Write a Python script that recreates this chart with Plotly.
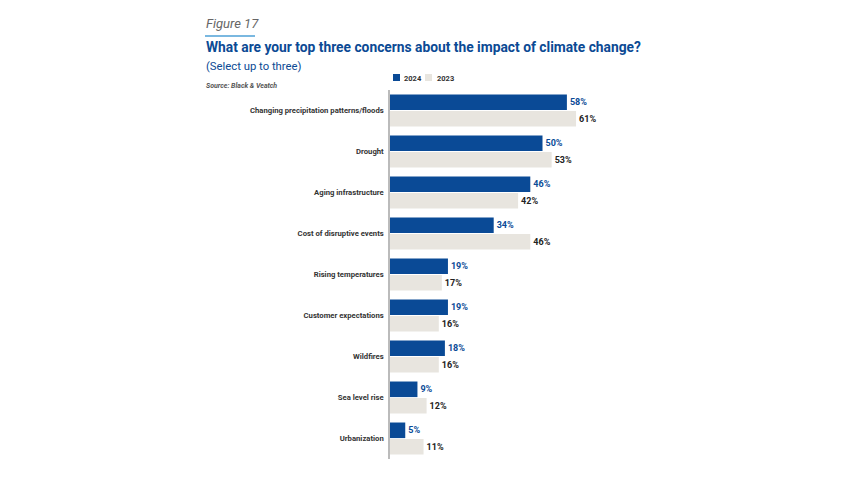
import plotly.graph_objects as go

categories = ["Changing precipitation patterns/floods", "Drought", "Aging infrastructure",
              "Cost of disruptive events", "Rising temperatures", "Customer expectations",
              "Wildfires", "Sea level rise", "Urbanization"]
values_2024 = [58, 50, 46, 34, 19, 19, 18, 9, 5]
values_2023 = [61, 53, 42, 46, 17, 16, 16, 12, 11]
series_names = ["2024", "2023"]

OFF = 8  # body margin of the html page
W, H = 853, 480
# page coordinates of the plot area
PL, PT, PB = 390, 90, 459
PW = 305
L, T = PL - OFF, PT - OFF
B = PB - OFF
R = W - L - PW
BM = H - B

def px(x):
    return (x - PL) / PW

def py(y):
    return (PB - y) / (PB - PT)

FONT = "Roboto, Arial"
BLUE = "#0a4a96"
BEIGE = "#e8e5df"

fig = go.Figure()
fig.add_trace(go.Bar(
    y=categories, x=values_2024, name=series_names[0], orientation="h",
    marker=dict(color=BLUE, line=dict(width=0)),
    text=[f"{v}%" for v in values_2024], textposition="outside", cliponaxis=False,
    textfont=dict(color=BLUE, size=9, family=FONT, weight="bold"),
))
fig.add_trace(go.Bar(
    y=categories, x=values_2023, name=series_names[1], orientation="h",
    marker=dict(color=BEIGE, line=dict(width=0)),
    text=[f"{v}%" for v in values_2023], textposition="outside", cliponaxis=False,
    textfont=dict(color="#222222", size=9, family=FONT, weight="bold"),
))

fig.update_layout(
    width=W, height=H,
    margin=dict(l=L, r=R, t=T, b=BM, pad=0),
    paper_bgcolor="white", plot_bgcolor="white",
    barmode="group", bargap=0.2, bargroupgap=0.05,
    font=dict(family=FONT, color="#333333"),
    showlegend=False,
    xaxis=dict(range=[0, 100], visible=False, fixedrange=True),
    yaxis=dict(autorange="reversed", showline=True, linecolor="#bbbbbb", linewidth=1.5,
               showgrid=False, zeroline=False, ticks="", ticklen=0,
               tickfont=dict(size=7.7, family=FONT, color="#333333", weight="bold"),
               ticklabelstandoff=3),
)

ann = [
    dict(text="<i>Figure 17</i>", x=px(204), y=py(24), font=dict(size=13, color="#666666", family="Roboto, Arial")),
    dict(text="<b>What are your top three concerns about the impact of climate change?</b>", x=px(204), y=py(47),
         font=dict(size=13.8, color="#0b4a94", family="Roboto, Arial")),
    dict(text="(Select up to three)", x=px(204), y=py(66), font=dict(size=11.3, color="#0b4a94", family="Roboto, Arial")),
    dict(text="<b><i>Source: Black &amp; Veatch</i></b>", x=px(204), y=py(86), font=dict(size=7, color="#555555", family="Roboto, Arial")),
]
for a in ann:
    fig.add_annotation(xref="paper", yref="paper", xanchor="left", yanchor="middle",
                       showarrow=False, **a)

# legend
for sx, tx, name, col in [(393, 402, series_names[0], BLUE), (425, 435, series_names[1], BEIGE)]:
    fig.add_shape(type="rect", xref="paper", yref="paper", x0=px(sx), x1=px(sx + 7),
                  y0=py(81), y1=py(74), fillcolor=col, line=dict(width=0))
    fig.add_annotation(xref="paper", yref="paper", xanchor="left", yanchor="middle",
                       x=px(tx), y=py(78), text=f"<b>{name}</b>", showarrow=False,
                       font=dict(size=7.5, family=FONT, color="#333333"))

fig.add_shape(type="line", xref="paper", yref="paper", x0=px(205), x1=px(255), y0=py(36), y1=py(36),
              line=dict(color="#7ab8e0", width=2))

fig.write_html("out.html")
